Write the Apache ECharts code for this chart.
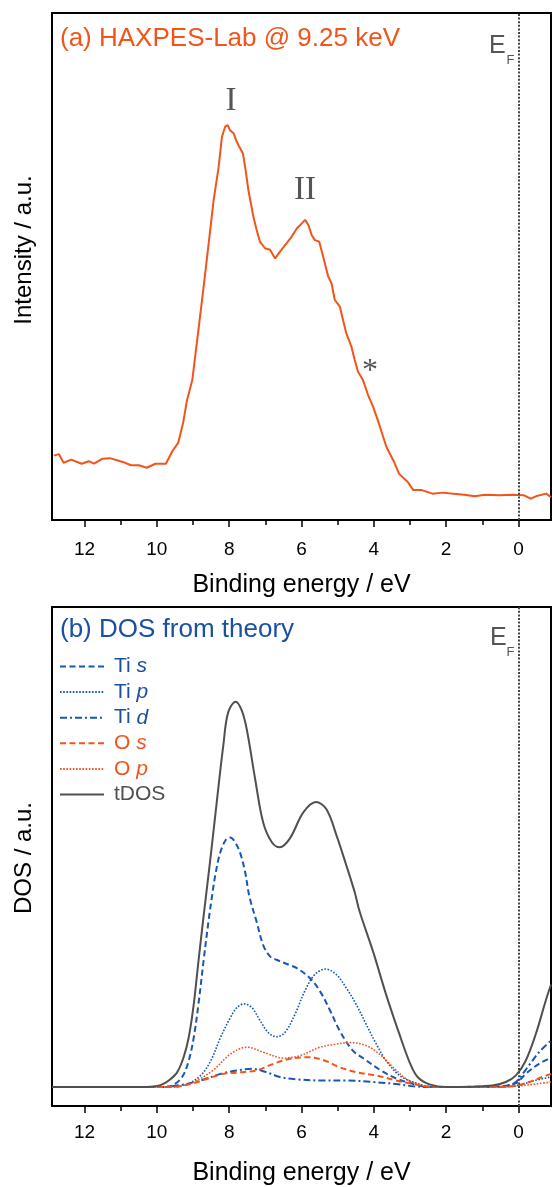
<!DOCTYPE html>
<html><head><meta charset="utf-8">
<script src="https://cdn.jsdelivr.net/npm/echarts@6/dist/echarts.min.js"></script>
<style>html,body{margin:0;padding:0;background:#fff}#c{width:552px;height:1187px}</style>
</head><body><div id="c"></div>
<script>
// ---------- data ----------
const xMajorTicks = [0, 2, 4, 6, 8, 10, 12];
const xMinorTicks = [1, 3, 5, 7, 9, 11];
const xLabels = [0, 2, 4, 6, 8, 10, 12];

// (a) experimental HAXPES spectrum [binding energy eV, intensity a.u.]
const haxpes = [[12.85,12.7],[12.71,13.0],[12.58,11.3],[12.37,11.9],[12.08,11.1],[11.88,11.6],[11.74,11.1],[11.5,12.1],[11.3,12.2],[11.1,11.8],[10.92,11.4],[10.72,10.8],[10.5,10.8],[10.28,10.3],[10.04,11.1],[9.75,11.1],[9.56,13.7],[9.41,15.2],[9.27,19.3],[9.17,23.5],[9.02,27.6],[8.75,43.4],[8.61,51.9],[8.43,63.1],[8.29,69.7],[8.2,75.6],[8.11,77.6],[8.04,77.9],[7.98,76.9],[7.88,76.3],[7.79,74.6],[7.72,73.6],[7.62,72.3],[7.56,69.7],[7.47,65.1],[7.33,59.8],[7.24,57.2],[7.15,54.9],[7.01,53.6],[6.87,53.3],[6.73,51.6],[6.6,52.9],[6.41,54.6],[6.27,55.9],[6.13,57.5],[5.99,58.5],[5.9,59.2],[5.81,58.2],[5.72,56.2],[5.63,55.2],[5.51,54.9],[5.4,51.9],[5.26,48.0],[5.17,46.7],[5.08,43.4],[4.94,42.1],[4.85,39.4],[4.76,36.8],[4.62,34.2],[4.53,31.6],[4.44,29.3],[4.3,27.6],[4.16,24.7],[4.02,22.3],[3.91,20.1],[3.84,18.6],[3.65,14.4],[3.45,11.6],[3.3,9.1],[3.15,8.1],[3.06,7.5],[2.91,5.9],[2.67,5.9],[2.38,5.2],[2.09,5.4],[1.8,5.2],[1.5,5.0],[1.21,4.7],[0.92,5.0],[0.53,4.9],[0.15,5.0],[-0.14,4.9],[-0.34,4.2],[-0.53,4.8],[-0.77,5.2],[-0.9,4.5]];

// (b) DOS from theory [binding energy eV, DOS a.u.]
const tiS = [[12.9,0],[9.9,0],[9.58,0.4],[9.3,2.6],[9.12,6.8],[8.98,12.8],[8.85,21.4],[8.71,32.5],[8.57,43.0],[8.48,49.0],[8.38,55.0],[8.25,60.5],[8.1,63.8],[7.97,64.5],[7.85,63.5],[7.7,60.6],[7.56,55.6],[7.44,49.2],[7.24,42.7],[7.06,36.7],[6.87,33.8],[6.69,32.9],[6.32,31.5],[6.14,30.8],[5.77,28.2],[5.49,24.8],[5.22,20.0],[4.94,14.5],[4.58,9.4],[4.3,7.5],[3.84,4.5],[3.38,2.2],[2.9,0.8],[2.5,0],[0.6,0.2],[0.07,1.0],[-0.2,3.4],[-0.57,6.0],[-0.9,7.6]];
const tiP = [[12.9,0],[9.6,0],[9.17,0.8],[8.79,3.0],[8.51,6.8],[8.24,12.8],[7.97,17.9],[7.79,20.5],[7.59,21.5],[7.37,20.5],[7.14,17.1],[6.92,14.1],[6.69,13.0],[6.46,14.1],[6.18,18.8],[5.91,24.8],[5.63,29.1],[5.33,30.5],[5.04,29.1],[4.76,25.6],[4.49,21.4],[4.21,16.2],[3.93,11.1],[3.66,6.8],[3.29,3.0],[2.92,1.3],[2.5,0.2],[2.0,0],[0.5,0],[0.0,0.5],[-0.5,1.8],[-0.9,2.6]];
const tiD = [[12.9,0],[9.9,0],[9.3,0.6],[8.79,1.7],[8.24,3.4],[7.79,4.3],[7.37,4.7],[6.96,3.8],[6.6,2.6],[6.14,2.0],[5.49,1.7],[4.76,1.7],[4.02,1.3],[3.38,0.8],[2.9,0.2],[2.4,0],[0.6,0],[0.3,0.4],[0.07,1.3],[-0.29,5.6],[-0.57,9.0],[-0.9,12.0]];
const oS = [[12.9,0],[9.6,0],[9.07,0.8],[8.62,2.1],[8.16,3.4],[7.7,3.8],[7.24,4.3],[6.78,6.0],[6.32,7.3],[5.82,7.7],[5.4,7.0],[4.94,5.1],[4.48,3.8],[3.93,3.0],[3.38,1.7],[2.92,0.8],[2.5,0.1],[2.2,0],[0.5,0],[0.0,0.5],[-0.29,1.3],[-0.57,2.3],[-0.9,3.4]];
const oP = [[12.9,0],[9.6,0],[9.0,1.3],[8.45,4.3],[7.97,8.5],[7.51,10.3],[7.06,9.0],[6.5,7.5],[6.04,8.1],[5.49,10.3],[5.04,11.1],[4.67,11.5],[4.21,10.7],[3.84,8.5],[3.47,5.1],[3.1,2.1],[2.83,0.8],[2.5,0.1],[2.2,0],[0.5,0],[0.0,0.3],[-0.5,0.8],[-0.9,1.3]];
const tDOS = [[12.9,0],[10.4,0],[10.17,0.1],[9.9,0.5],[9.67,1.7],[9.44,3.8],[9.26,7.7],[9.12,12.8],[8.98,21.4],[8.85,32.5],[8.71,44.0],[8.52,59.0],[8.34,74.0],[8.16,88.5],[8.03,96.8],[7.82,99.6],[7.65,97.3],[7.51,92.3],[7.28,79.5],[7.06,68.4],[6.82,63.3],[6.6,62.0],[6.32,64.3],[5.95,71.0],[5.6,73.7],[5.31,71.8],[5.03,65.0],[4.76,57.3],[4.53,50.4],[4.39,45.3],[4.02,35.0],[3.66,23.9],[3.29,13.6],[3.01,6.4],[2.79,2.6],[2.46,0.7],[2.0,0],[0.72,0.4],[0.35,1.3],[0.07,3.0],[-0.2,6.8],[-0.48,13.7],[-0.75,22.2],[-0.9,26.5]];

const legendNames = ['Ti s', 'Ti p', 'Ti d', 'O s', 'O p', 'tDOS'];

// ---------- styles ----------
const ORANGE = '#f2541a';
const BLUE = '#1857b3';
const BLUE_TXT = '#1a50a2';
const GRAY = '#505050';
const FONT = 'Liberation Sans, Arial, sans-serif';
const SERIF = 'Liberation Serif, Times New Roman, serif';

const chart = echarts.init(document.getElementById('c'), null, {renderer: 'canvas'});

function xAxisMajor(grid, margin, nameGap) {
  return {
    gridIndex: grid, type: 'value', min: -0.9, max: 12.9, inverse: true,
    position: 'bottom',
    axisLine: {show: true, onZero: false, lineStyle: {color: '#000', width: 2}},
    axisTick: {show: true, customValues: xMajorTicks, length: 7, lineStyle: {color: '#000', width: 1.5}},
    axisLabel: {show: true, customValues: xLabels, fontSize: 19, color: '#000', margin: margin, fontFamily: FONT},
    splitLine: {show: false},
    name: 'Binding energy / eV', nameLocation: 'middle', nameGap: nameGap,
    nameTextStyle: {fontSize: 25, color: '#000', fontFamily: FONT}
  };
}
function xAxisMinor(grid) {
  return {
    gridIndex: grid, type: 'value', min: -0.9, max: 12.9, inverse: true,
    position: 'bottom',
    axisLine: {show: false, onZero: false},
    axisTick: {show: true, customValues: xMinorTicks, length: 5, lineStyle: {color: '#000', width: 1.5}},
    axisLabel: {show: false},
    splitLine: {show: false}
  };
}
function yAxis(grid, min, max) {
  return {gridIndex: grid, type: 'value', min: min, max: max,
    axisLine: {show: false}, axisTick: {show: false}, axisLabel: {show: false}, splitLine: {show: false}};
}
function efLine() {
  return {silent: true, symbol: 'none', label: {show: false},
    lineStyle: {type: [2, 1.6], color: '#444', width: 2}, data: [{xAxis: 0}]};
}
function dosSeries(name, data, color, type, width) {
  return {name: name, type: 'line', xAxisIndex: 2, yAxisIndex: 1, data: data,
    symbol: 'none', showSymbol: false, smooth: 0.35, lineStyle: {color: color, type: type, width: width},
    itemStyle: {color: color}, z: 3};
}

const legendData = legendNames.map(n => ({
  name: n,
  textStyle: {color: n.startsWith('Ti') ? BLUE_TXT : (n.startsWith('O') ? ORANGE : GRAY)}
}));

const option = {
  backgroundColor: '#fff',
  animation: false,
  grid: [
    {left: 52, right: 1, top: 13, height: 507, show: true, borderColor: '#000', borderWidth: 2},
    {left: 52, right: 1, top: 607, height: 503, show: true, borderColor: '#000', borderWidth: 2}
  ],
  xAxis: [xAxisMajor(0, 20, 53), xAxisMinor(0), xAxisMajor(1, 17, 55), xAxisMinor(1)],
  yAxis: [yAxis(0, 0, 100), yAxis(1, -4.9, 124.1)],
  legend: {
    data: legendData, orient: 'vertical', left: 59, top: 656, padding: 0,
    itemWidth: 44, itemHeight: 14, itemGap: 4.6, selectedMode: false,
    itemStyle: {opacity: 0, borderWidth: 0},
    formatter: function (name) {
      const parts = name.split(' ');
      if (parts.length < 2) return '{n|' + name + '}';
      return '{n|' + parts[0] + ' }{i|' + parts[1] + '}';
    },
    textStyle: {fontSize: 21, fontFamily: FONT, padding: [0, 0, 0, 5],
      rich: {n: {fontSize: 21, fontFamily: FONT}, i: {fontSize: 21, fontFamily: FONT, fontStyle: 'italic'}}}
  },
  series: [
    {name: 'HAXPES', type: 'line', xAxisIndex: 0, yAxisIndex: 0, data: haxpes, symbol: 'none',
      lineStyle: {color: ORANGE, width: 2}, itemStyle: {color: ORANGE}, markLine: efLine(), z: 3},
    dosSeries('Ti s', tiS, BLUE, [6, 3.5], 2),
    dosSeries('Ti p', tiP, BLUE, [1.6, 1.6], 1.6),
    dosSeries('Ti d', tiD, BLUE, [7, 3, 2, 3], 2),
    dosSeries('O s', oS, ORANGE, [6, 3.5], 2),
    dosSeries('O p', oP, ORANGE, [1.6, 1.6], 1.6),
    Object.assign(dosSeries('tDOS', tDOS, GRAY, 'solid', 2), {markLine: efLine()})
  ],
  graphic: [
    {type: 'text', x: 60, y: 39, style: {text: '(a) HAXPES-Lab @ 9.25 keV', fill: ORANGE, font: '26px ' + FONT, verticalAlign: 'middle'}},
    {type: 'text', x: 489, y: 46, style: {text: 'E', fill: '#555', font: '25px ' + FONT, verticalAlign: 'middle'}},
    {type: 'text', x: 506.5, y: 60.5, style: {text: 'F', fill: '#555', font: '13px ' + FONT, verticalAlign: 'middle'}},
    {type: 'text', x: 60, y: 630, style: {text: '(b) DOS from theory', fill: BLUE_TXT, font: '26px ' + FONT, verticalAlign: 'middle'}},
    {type: 'text', x: 490, y: 638.5, style: {text: 'E', fill: '#555', font: '25px ' + FONT, verticalAlign: 'middle'}},
    {type: 'text', x: 506.5, y: 652, style: {text: 'F', fill: '#555', font: '13px ' + FONT, verticalAlign: 'middle'}},
    {type: 'text', x: 231, y: 101, style: {text: 'I', fill: '#555', font: '33px ' + SERIF, align: 'center', verticalAlign: 'middle'}},
    {type: 'text', x: 305, y: 190, style: {text: 'II', fill: '#555', font: '33px ' + SERIF, align: 'center', verticalAlign: 'middle'}},
    {type: 'text', x: 370, y: 372, style: {text: '*', fill: '#555', font: '32px ' + SERIF, align: 'center', verticalAlign: 'middle'}},
    {type: 'text', x: 24, y: 250, rotation: Math.PI / 2, style: {text: 'Intensity / a.u.', fill: '#000', font: '24px ' + FONT, align: 'center', verticalAlign: 'middle'}},
    {type: 'text', x: 24, y: 858, rotation: Math.PI / 2, style: {text: 'DOS / a.u.', fill: '#000', font: '24px ' + FONT, align: 'center', verticalAlign: 'middle'}}
  ]
};
chart.setOption(option);
</script>
</body></html>
